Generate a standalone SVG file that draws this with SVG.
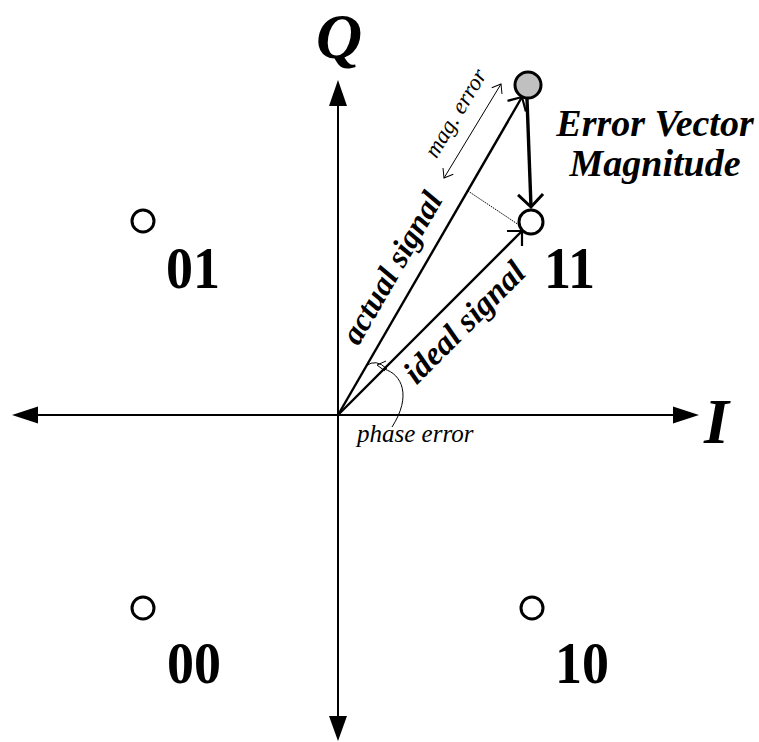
<svg xmlns="http://www.w3.org/2000/svg" width="759" height="742" viewBox="0 0 759 742">
<style>
.axis{stroke:#000;stroke-width:2;fill:none}
.vec{stroke:#000;stroke-width:2.4;fill:none}
.thin{stroke:#000;stroke-width:1;fill:none}
.pt{fill:#fff;stroke:#000;stroke-width:3}
.bi{font-family:"Liberation Serif","Times New Roman",serif;font-weight:bold;font-style:italic;fill:#000}
.b{font-family:"Liberation Serif","Times New Roman",serif;font-weight:bold;fill:#000;font-size:60px}
.i{font-family:"Liberation Serif","Times New Roman",serif;font-style:italic;fill:#000}
</style>
<defs>
<marker id="open" markerUnits="userSpaceOnUse" markerWidth="30" markerHeight="30" refX="0" refY="0" viewBox="-15 -15 30 30" orient="auto" overflow="visible">
<path d="M-10.6,-10.6 L0,0 L-10.6,10.6" fill="none" stroke="#000" stroke-width="2.2"/>
</marker>
<marker id="openBig" markerUnits="userSpaceOnUse" markerWidth="30" markerHeight="30" refX="0" refY="0" viewBox="-15 -15 30 30" orient="auto" overflow="visible">
<path d="M-12.5,-12.5 L0,0 L-12.5,12.5" fill="none" stroke="#000" stroke-width="3"/>
</marker>
<marker id="small" markerUnits="userSpaceOnUse" markerWidth="20" markerHeight="20" refX="0" refY="0" viewBox="-10 -10 20 20" orient="auto" overflow="visible">
<path d="M-8,-6 L0,0 L-8,6" fill="none" stroke="#000" stroke-width="1"/>
</marker>
<marker id="smallStart" markerUnits="userSpaceOnUse" markerWidth="20" markerHeight="20" refX="0" refY="0" viewBox="-10 -10 20 20" orient="auto-start-reverse" overflow="visible">
<path d="M-8,-6 L0,0 L-8,6" fill="none" stroke="#000" stroke-width="1"/>
</marker>
</defs>

<g id="axes">
<line class="axis" x1="38" y1="415" x2="673" y2="415"/>
<line class="axis" x1="338" y1="106" x2="338" y2="716"/>
<polygon points="12,415 38,406.5 38,423.5" fill="#000"/>
<polygon points="699,415 673,406.5 673,423.5" fill="#000"/>
<polygon points="338,80 329,106 347,106" fill="#000"/>
<polygon points="338,741 329,716 347,716" fill="#000"/>
<text class="bi" x="316" y="58" font-size="64">Q</text>
<text class="bi" x="704" y="443" font-size="64">I</text>
</g>

<g id="connectors">
<line class="vec" x1="338" y1="415" x2="522" y2="97" marker-end="url(#open)"/>
<line class="vec" x1="338" y1="415" x2="522" y2="231" marker-end="url(#open)"/>
<line x1="527" y1="99" x2="531" y2="207" stroke="#000" stroke-width="3.4" marker-end="url(#openBig)"/>
<line x1="468" y1="191" x2="519" y2="225" stroke="#000" stroke-width="1" stroke-dasharray="1.5,1"/>
<line class="thin" x1="444" y1="178" x2="501" y2="84" marker-start="url(#smallStart)" marker-end="url(#small)"/>
<path class="thin" d="M366,366 Q376,358 387,369"/>
<path class="thin" d="M386,361 L377,365 L385,371"/>
<path class="thin" d="M384,369 C402,374 412,396 392,427"/>
</g>

<g id="node-01">
<circle class="pt" cx="143" cy="221" r="11"/>
<text class="b" transform="translate(166,288) scale(0.9,1)">01</text>
</g>
<g id="node-00">
<circle class="pt" cx="143" cy="608" r="11"/>
<text class="b" transform="translate(167,683) scale(0.9,1)">00</text>
</g>
<g id="node-10">
<circle class="pt" cx="532" cy="608" r="11"/>
<text class="b" transform="translate(555,683) scale(0.9,1)">10</text>
</g>
<g id="node-11">
<circle class="pt" cx="531" cy="222" r="12"/>
<text class="b" transform="translate(544,288) scale(0.9,1)">11</text>
</g>
<g id="node-actual">
<circle cx="528" cy="85" r="13" fill="#c0c0c0" stroke="#000" stroke-width="3"/>
</g>

<g id="labels">
<text class="bi" x="655" y="136" font-size="38" text-anchor="middle">Error Vector</text>
<text class="bi" x="655" y="176" font-size="38" text-anchor="middle">Magnitude</text>
<text class="bi" font-size="32" text-anchor="middle" transform="translate(401,273) rotate(-60)">actual signal</text>
<text class="bi" font-size="33" text-anchor="middle" transform="translate(472,330) rotate(-45)">ideal signal</text>
<text class="i" font-size="23" text-anchor="middle" transform="translate(462,117) rotate(-59)">mag. error</text>
<text class="i" x="357" y="442" font-size="25">phase error</text>
</g>
</svg>
